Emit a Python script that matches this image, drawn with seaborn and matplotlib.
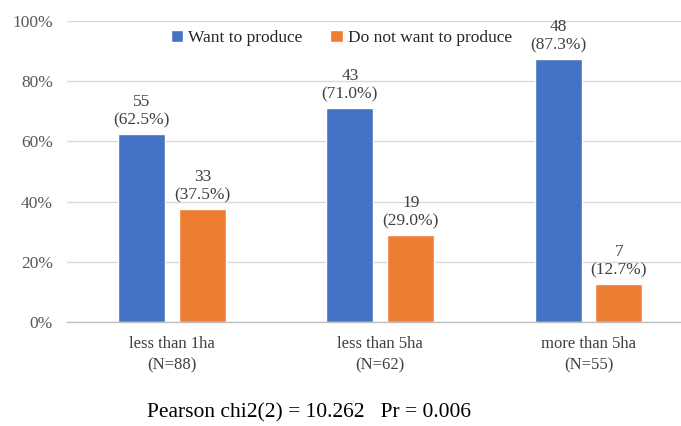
import matplotlib
matplotlib.use("Agg")
import matplotlib.pyplot as plt
import seaborn as sns
import pandas as pd

categories = ["less than 1ha\n(N=88)", "less than 5ha\n(N=62)", "more than 5ha\n(N=55)"]
series = ["Want to produce", "Do not want to produce"]
want_pct = [62.5, 71.0, 87.3]
notwant_pct = [37.5, 29.0, 12.7]
want_n = [55, 43, 48]
notwant_n = [33, 19, 7]
colors = ["#4472C4", "#ED7D31"]

rows = []
for i, c in enumerate(categories):
    rows.append({"cat": c, "series": series[0], "pct": want_pct[i], "n": want_n[i]})
    rows.append({"cat": c, "series": series[1], "pct": notwant_pct[i], "n": notwant_n[i]})
df = pd.DataFrame(rows)

sns.set_theme(style="white")
plt.rcParams["font.family"] = ["Liberation Serif", "DejaVu Serif"]

fig = plt.figure(figsize=(6.81, 4.26), dpi=100)
ax = fig.add_axes([0.0984, 0.2441, 0.9016, 0.7066])

sns.barplot(data=df, x="cat", y="pct", hue="series", palette=colors,
            order=categories, hue_order=series, width=0.584, gap=0.226,
            saturation=1, ax=ax, legend=True)

ax.set_ylim(0, 100)
ax.set_xlim(-0.504, 2.444)
ax.set_yticks([0, 20, 40, 60, 80, 100])
ax.set_yticklabels([f"{v}%" for v in [0, 20, 40, 60, 80, 100]])
ax.yaxis.grid(True, color="#D9D9D9", linewidth=1.0)
ax.set_axisbelow(True)
for s in ["left", "right", "top"]:
    ax.spines[s].set_visible(False)
ax.spines["bottom"].set_color("#BFBFBF")
ax.spines["bottom"].set_linewidth(1.0)
ax.tick_params(axis="y", length=0, labelsize=12.5, colors="#595959", pad=10)
ax.tick_params(axis="x", length=0, labelsize=12, colors="#404040", pad=10)
for t in ax.get_xticklabels():
    t.set_linespacing(1.45)
ax.set_xlabel("")
ax.set_ylabel("")

pcts = [want_pct, notwant_pct]
ns = [want_n, notwant_n]
for k, cont in enumerate(ax.containers):
    for j, bar in enumerate(cont):
        x = bar.get_x() + bar.get_width() / 2
        h = bar.get_height()
        ax.annotate(f"{ns[k][j]}\n({pcts[k][j]:.1f}%)", (x, h), xytext=(0, 4),
                    textcoords="offset points", ha="center", va="bottom",
                    fontsize=12.5, color="#404040", linespacing=1.2)

leg = ax.legend(loc="upper center", bbox_to_anchor=(0.447, 1.0), ncol=2, frameon=False,
                fontsize=12.5, handlelength=0.7, handleheight=0.7, handletextpad=0.3,
                columnspacing=1.6, borderaxespad=0.1)
for t in leg.get_texts():
    t.set_color("#262626")

fig.text(309 / 681, 1 - 413 / 426, "Pearson chi2(2) = 10.262   Pr = 0.006",
         ha="center", va="center", fontsize=15.5, color="#000000")

fig.savefig("out.png", dpi=100)
